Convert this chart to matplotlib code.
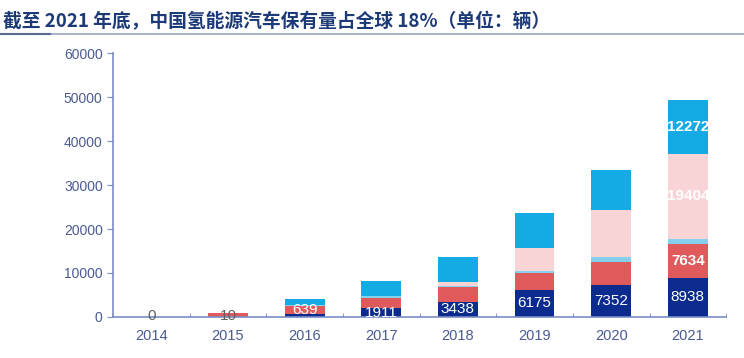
import numpy as np
import matplotlib.pyplot as plt
from matplotlib.lines import Line2D

plt.rcParams['font.family'] = ['Liberation Sans', 'Noto Sans CJK SC', 'DejaVu Sans']

years = ['2014', '2015', '2016', '2017', '2018', '2019', '2020', '2021']
china = [0, 10, 639, 1911, 3438, 6175, 7352, 8938]
japan = [0, 750, 1890, 2450, 3280, 3711, 5176, 7634]
europe = [0, 0, 150, 300, 400, 524, 1000, 1200]
korea = [0, 0, 0, 80, 875, 5170, 10775, 19404]
usa = [0, 100, 1300, 3485, 5695, 7970, 9112, 12272]

colors = ['#0b2c8e', '#e05a5c', '#86d0ee', '#f9d4d6', '#14abe5']
series = [china, japan, europe, korea, usa]

fig = plt.figure(figsize=(7.44, 3.58), dpi=100)
ax = fig.add_axes([0.152, 0.115, 0.824, 0.736])

x = np.arange(len(years))
bottom = np.zeros(len(years))
for vals, c in zip(series, colors):
    ax.bar(x, vals, width=0.52, bottom=bottom, color=c, linewidth=0, zorder=2)
    bottom += np.array(vals)

# labels
lab_kw = dict(ha='center', va='center', fontsize=11, color='white', zorder=3)
for i, v in enumerate(china):
    if v < 100:
        ax.text(x[i], v + 250, str(v), ha='center', va='center', fontsize=11,
                color='#606060', zorder=3)
    elif v < 1000:
        ax.text(x[i], v + japan[i] / 2, str(v), **lab_kw)
    else:
        ax.text(x[i], v / 2, str(v), **lab_kw)
ax.text(x[-1], china[-1] + japan[-1] / 2, str(japan[-1]), fontweight='bold', **lab_kw)
b = china[-1] + japan[-1] + europe[-1]
ax.text(x[-1], b + korea[-1] / 2, str(korea[-1]), fontweight='bold', **lab_kw)
b += korea[-1]
ax.text(x[-1], b + usa[-1] / 2, str(usa[-1]), fontweight='bold', **lab_kw)

axis_c = '#7a8cc4'
ax.set_xlim(-0.5, len(years) - 0.5)
ax.set_ylim(0, 60000)
ax.set_yticks(range(0, 60001, 10000))
ax.set_xticks(x)
ax.set_xticklabels(years)
ax.set_xticks(np.arange(-0.5, len(years)), minor=True)
ax.tick_params(axis='x', which='major', length=0, pad=9, labelsize=10.5, labelcolor='#4a5a92')
ax.tick_params(axis='x', which='minor', length=3, color=axis_c, direction='in')
ax.tick_params(axis='y', length=4, color=axis_c, labelsize=10, labelcolor='#4a5a92')
for s in ['top', 'right']:
    ax.spines[s].set_visible(False)
for s in ['left', 'bottom']:
    ax.spines[s].set_color(axis_c)
    ax.spines[s].set_linewidth(1.2)

fig.text(0.004, 0.94, '截至 2021 年底，中国氢能源汽车保有量占全球 18%（单位：辆）',
         fontsize=13.5, fontweight='bold', color='#1d3a78', ha='left', va='center',
         family=['Noto Sans CJK SC', 'DejaVu Sans'])
fig.add_artist(Line2D([0, 1], [0.905, 0.905], color='#aab5c9', lw=1.5, transform=fig.transFigure))
fig.add_artist(Line2D([0, 0.067], [0.905, 0.905], color='#5a6c94', lw=1.5, transform=fig.transFigure))

fig.savefig('out.png', dpi=100)
